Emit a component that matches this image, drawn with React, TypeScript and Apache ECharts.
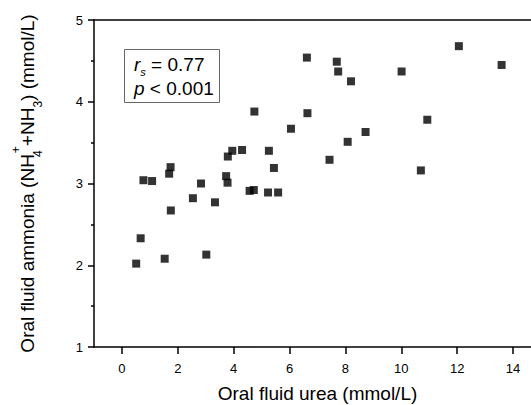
import React, { useEffect, useRef } from 'react';
import * as echarts from 'echarts';

const ureaValues = [0.51, 0.67, 0.77, 1.08, 1.53, 1.69, 1.74, 1.75, 2.54, 2.83, 3.02, 3.33, 3.73, 3.78, 3.79, 3.95, 4.30, 4.57, 4.72, 4.74, 5.23, 5.26, 5.44, 5.59, 6.05, 6.62, 6.64, 7.43, 7.69, 7.74, 8.08, 8.20, 8.72, 10.01, 10.70, 10.93, 12.06, 13.59];
const ammoniaValues = [2.02, 2.33, 3.04, 3.03, 2.08, 3.12, 3.20, 2.67, 2.82, 3.00, 2.13, 2.77, 3.09, 3.01, 3.33, 3.40, 3.41, 2.91, 2.92, 3.88, 2.89, 3.40, 3.19, 2.89, 3.67, 4.54, 3.86, 3.29, 4.49, 4.37, 3.51, 4.25, 3.63, 4.37, 3.16, 3.78, 4.68, 4.45];
const xTickValues = [0, 2, 4, 6, 8, 10, 12, 14];
const xTitle = 'Oral fluid urea (mmol/L)';
const statLine1 = ['r', 's', ' = 0.77'];
const statLine2 = ['p', ' < 0.001'];

const FONT = "'Liberation Sans', Arial, sans-serif";
const lineStyle = { color: '#000', width: 1.5 };

export default function App() {
  const ref = useRef<HTMLDivElement>(null);
  useEffect(() => {
    if (!ref.current) return;
    const chart = echarts.init(ref.current, null, { renderer: 'svg' });
    const data = ureaValues.map((x, i) => [x, ammoniaValues[i]]);
    const main = { fontSize: 19, fontFamily: FONT, color: '#000', lineHeight: 34 };
    const sub = { fontSize: 12, fontFamily: FONT, color: '#000', lineHeight: 12, verticalAlign: 'bottom' };
    const sup = { fontSize: 12, fontFamily: FONT, color: '#000', lineHeight: 12, verticalAlign: 'top' };
    const legMain = { fontSize: 19, fontFamily: FONT, color: '#000', lineHeight: 26 };
    const legIt = { ...legMain, fontStyle: 'italic' };
    const legSub = { fontSize: 11, fontFamily: FONT, color: '#000', lineHeight: 11, verticalAlign: 'bottom', fontStyle: 'italic' };
    chart.setOption({
      animation: false,
      grid: { left: 94, top: 20, right: -10, bottom: 58, outerBoundsMode: 'none', containLabel: false },
      xAxis: [
        {
          type: 'value', min: -1, max: 15, position: 'bottom',
          axisLine: { show: true, onZero: false, lineStyle },
          axisTick: { show: true, customValues: xTickValues, length: 7, lineStyle },
          axisLabel: { customValues: xTickValues, fontSize: 13, fontFamily: FONT, color: '#000', margin: 15 },
          splitLine: { show: false },
          name: xTitle, nameLocation: 'middle', nameGap: 37,
          nameTextStyle: { fontSize: 19, fontFamily: FONT, color: '#000' },
        },
        {
          type: 'value', min: -1, max: 15, position: 'top',
          axisLine: { show: true, onZero: false, lineStyle },
          axisTick: { show: false }, axisLabel: { show: false }, splitLine: { show: false },
        },
      ],
      yAxis: [
        {
          type: 'value', min: 1, max: 5, interval: 1, position: 'left',
          axisLine: { show: true, onZero: false, lineStyle },
          axisTick: { show: true, length: 6, lineStyle },
          minorTick: { show: true, splitNumber: 2, length: 3, lineStyle },
          axisLabel: { fontSize: 13, fontFamily: FONT, color: '#000', margin: 11 },
          splitLine: { show: false },
          name: '{a|Oral fluid ammonia (NH}{s4|4}{p|+}{a|+NH}{s|3}{a|) (mmol/L)}',
          nameLocation: 'middle', nameGap: 50, nameRotate: 90,
          nameTextStyle: {
            rich: { a: main, s: sub, s4: { ...sub, width: 1 }, p: sup },
          },
        },
        {
          type: 'value', min: 1, max: 5, position: 'right',
          axisLine: { show: true, onZero: false, lineStyle },
          axisTick: { show: false }, axisLabel: { show: false }, splitLine: { show: false },
        },
      ],
      graphic: [
        {
          type: 'rect', shape: { x: 124.5, y: 49.5, width: 95, height: 53 },
          style: { fill: '#fff', stroke: '#666', lineWidth: 1 }, z: 10,
        },
        {
          type: 'text', x: 134, y: 64.4, z: 11,
          style: {
            text: `{i|${statLine1[0]}}{s|${statLine1[1]}}{n|${statLine1[2]}}`,
            verticalAlign: 'middle',
            rich: { i: legIt, s: legSub, n: legMain },
          },
        },
        {
          type: 'text', x: 134, y: 88.4, z: 11,
          style: {
            text: `{i|${statLine2[0]}}{n|${statLine2[1]}}`,
            verticalAlign: 'middle',
            rich: { i: legIt, n: legMain },
          },
        },
      ],
      series: [
        {
          type: 'scatter', xAxisIndex: 0, yAxisIndex: 0,
          symbol: 'rect', symbolSize: 8,
          itemStyle: { color: '#000' },
          data,
        },
      ],
    });
    return () => chart.dispose();
  }, []);
  return <div ref={ref} style={{ position: 'absolute', left: 0, top: 0, width: 531, height: 405 }} />;
}
